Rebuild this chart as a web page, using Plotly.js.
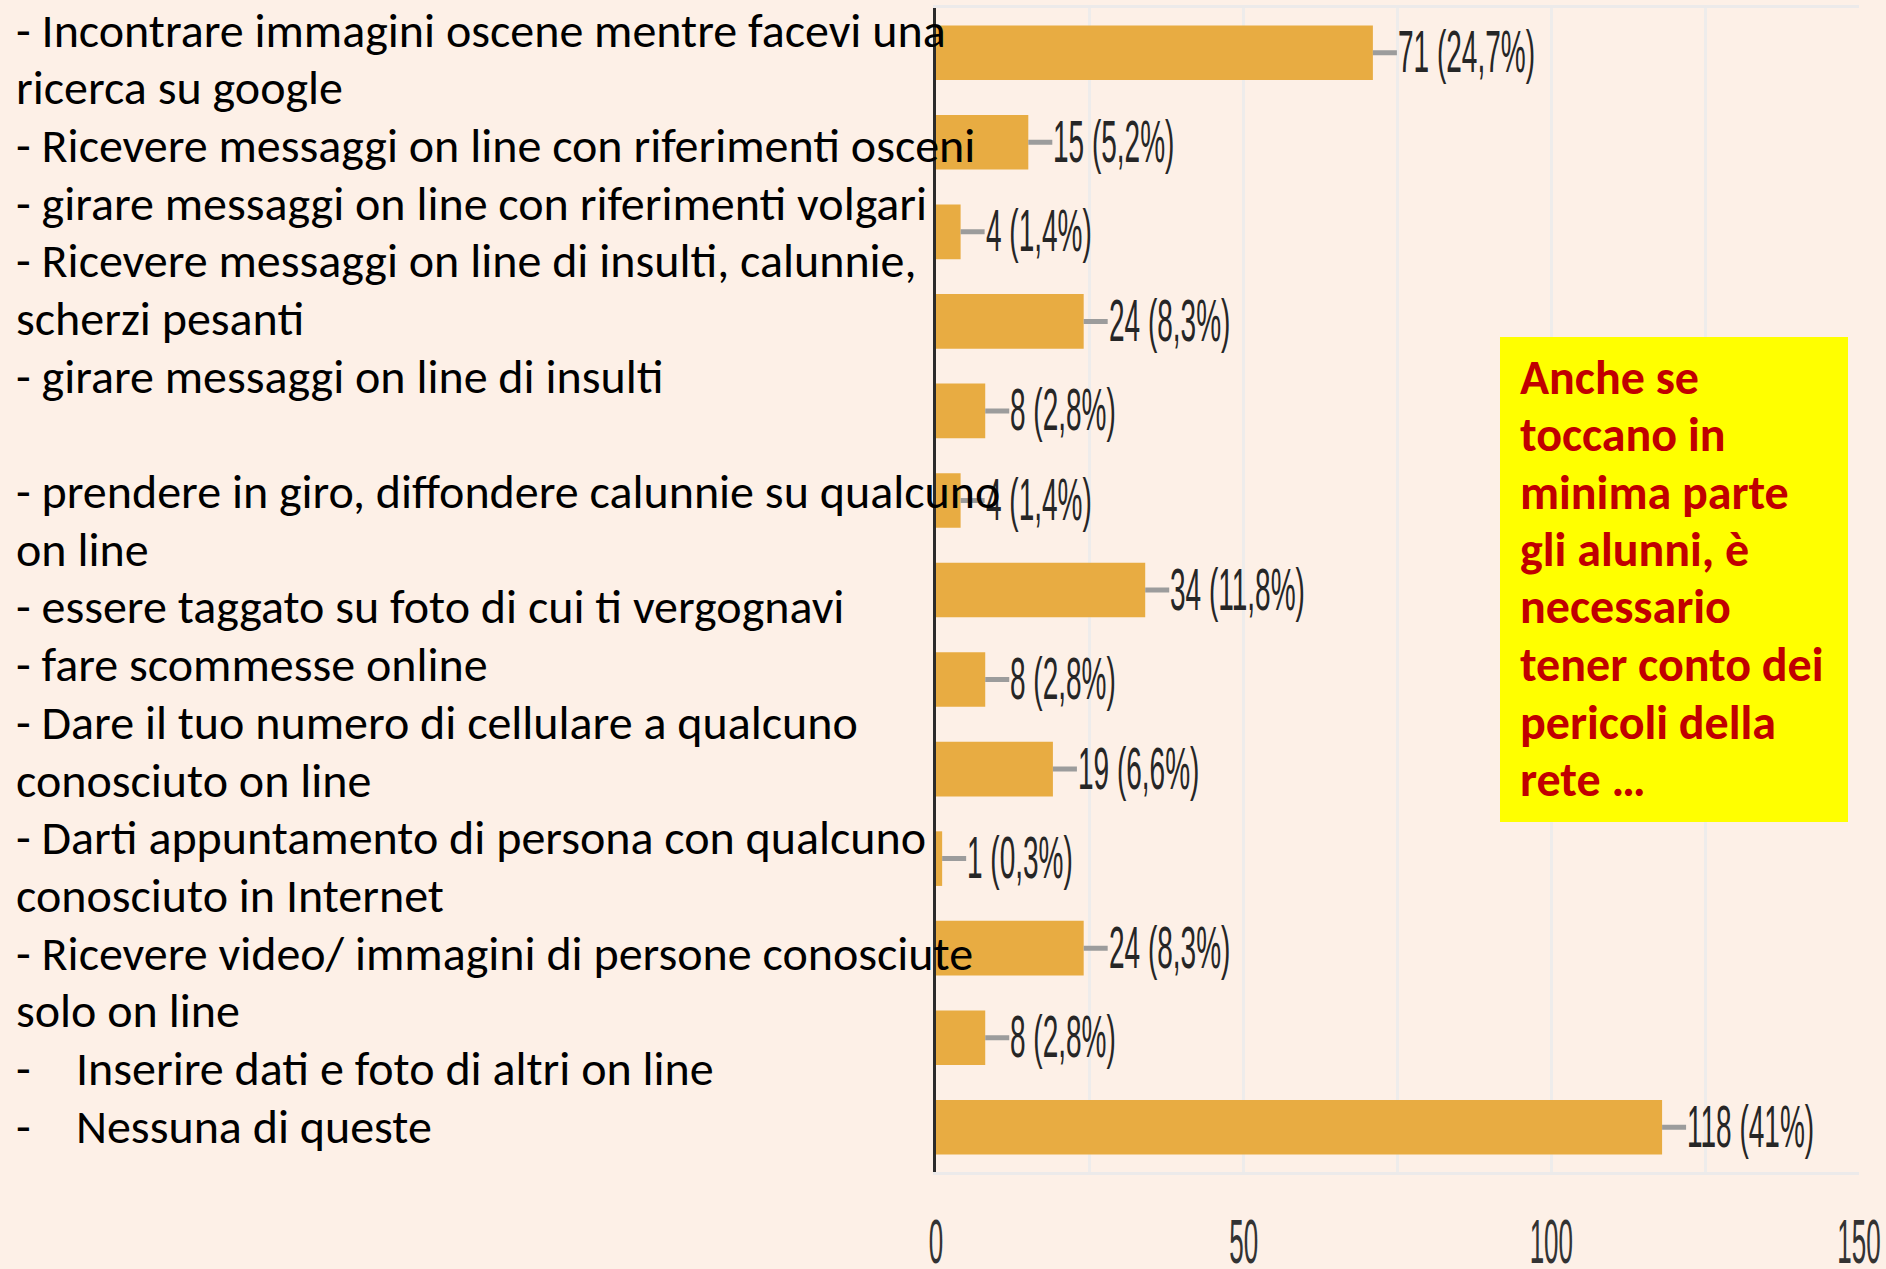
<!DOCTYPE html>
<html>
<head>
<meta charset="utf-8">
<script src="https://cdn.plot.ly/plotly-3.0.1.min.js"></script>
<style>
  html, body { margin: 0; padding: 0; background: #FDF0E7; }
  #chart { width: 1886px; height: 1269px; }
</style>
</head>
<body>
<div id="chart"></div>
<script>
// ---- data ----
const categories = [
  "Incontrare immagini oscene mentre facevi una ricerca su google",
  "Ricevere messaggi on line con riferimenti osceni",
  "girare messaggi on line con riferimenti volgari",
  "Ricevere messaggi on line di insulti, calunnie, scherzi pesanti",
  "girare messaggi on line di insulti",
  "prendere in giro, diffondere calunnie su qualcuno on line",
  "essere taggato su foto di cui ti vergognavi",
  "fare scommesse online",
  "Dare il tuo numero di cellulare a qualcuno conosciuto on line",
  "Darti appuntamento di persona con qualcuno conosciuto in Internet",
  "Ricevere video/ immagini di persone conosciute solo on line",
  "Inserire dati e foto di altri on line",
  "Nessuna di queste"
];
const counts = [71, 15, 4, 24, 8, 4, 34, 8, 19, 1, 24, 8, 118];
const percents = [24.7, 5.2, 1.4, 8.3, 2.8, 1.4, 11.8, 2.8, 6.6, 0.3, 8.3, 2.8, 41];
const xTickValues = [0, 50, 100, 150];
const xTickLabels = ["0", "50", "100", "150"];

// slide text overlaid on the left of the chart
const overlayLines = [
  "- Incontrare immagini oscene mentre facevi una",
  "ricerca su google",
  "- Ricevere messaggi on line con riferimenti osceni",
  "- girare messaggi on line con riferimenti volgari",
  "- Ricevere messaggi on line di insulti, calunnie,",
  "scherzi pesanti",
  "- girare messaggi on line di insulti",
  "",
  "- prendere in giro, diffondere calunnie su qualcuno",
  "on line",
  "- essere taggato su foto di cui ti vergognavi",
  "- fare scommesse online",
  "- Dare il tuo numero di cellulare a qualcuno",
  "conosciuto on line",
  "- Darti appuntamento di persona con qualcuno",
  "conosciuto in Internet",
  "- Ricevere video/ immagini di persone conosciute",
  "solo on line",
  "-\tInserire dati e foto di altri on line",
  "-\tNessuna di queste"
];
const noteLines = [
  "Anche se", "toccano in", "minima parte", "gli alunni, è",
  "necessario", "tener conto dei", "pericoli della", "rete …"
];

// ---- layout helpers ----
const W = 1886, H = 1269;
const M = { l: 936, r: 27, t: 8, b: 97 };
const plotH = H - M.t - M.b;
const plotW = W - M.l - M.r;
const py = p => 1 - (p - M.t) / plotH;   // pixel y -> paper y
const px = p => (p - M.l) / plotW;       // pixel x -> paper x

const chartFont = "'Liberation Sans', Arial, sans-serif";
const slideFont = "Carlito, Calibri, Lato, 'Open Sans', sans-serif";

const fmtPct = v => String(v).replace('.', ',') + '%';

const annotations = [];
// value labels with grey leader
categories.forEach((c, i) => {
  annotations.push({
    x: counts[i], y: c, xref: 'x', yref: 'y',
    text: counts[i] + ' (' + fmtPct(percents[i]) + ')',
    showarrow: true, arrowhead: 0, arrowwidth: 5, arrowcolor: '#9C9C9C',
    ax: 24, ay: 0, xanchor: 'left', yanchor: 'middle', standoff: 0,
    borderpad: 0,
    font: { family: chartFont, size: 28, color: '#262626' }
  });
});
const nValueLabels = annotations.length;
// overlay slide text
const slideSize = 48;
overlayLines.forEach((t, i) => {
  if (!t) return;
  const y = py(30 + i * 57.7);
  if (t.startsWith('-\t')) {
    annotations.push({ xref: 'paper', yref: 'paper', x: px(14), y: y, xanchor: 'left', yanchor: 'middle',
      showarrow: false, text: '-', font: { family: slideFont, size: slideSize, color: '#000' } });
    annotations.push({ xref: 'paper', yref: 'paper', x: px(74), y: y, xanchor: 'left', yanchor: 'middle',
      showarrow: false, text: t.slice(2), font: { family: slideFont, size: slideSize, color: '#000' } });
  } else {
    annotations.push({ xref: 'paper', yref: 'paper', x: px(14), y: y, xanchor: 'left', yanchor: 'middle',
      showarrow: false, text: t, font: { family: slideFont, size: slideSize, color: '#000' } });
  }
});
// note box text
noteLines.forEach((t, i) => {
  annotations.push({ xref: 'paper', yref: 'paper', x: px(1518), y: py(377 + i * 57.5),
    xanchor: 'left', yanchor: 'middle', showarrow: false, text: '<b>' + t + '</b>',
    font: { family: slideFont, size: slideSize, color: '#C00000' } });
});

const trace = {
  type: 'bar', orientation: 'h',
  x: counts, y: categories,
  marker: { color: '#E8AC42', line: { width: 0 } },
  hoverinfo: 'none'
};

const layout = {
  width: W, height: H,
  margin: M,
  paper_bgcolor: '#FDF0E7', plot_bgcolor: '#FDF0E7',
  showlegend: false,
  bargap: 0.39,
  xaxis: {
    range: [0, 150], tickvals: xTickValues, ticktext: xTickLabels,
    showgrid: true, gridcolor: '#EEECEB', gridwidth: 3,
    minor: { tick0: 0, dtick: 25, showgrid: true, gridcolor: '#EEECEB', gridwidth: 3 },
    zeroline: false, showline: true, linecolor: '#ECEAEA', linewidth: 3, mirror: true,
    ticks: '', ticklabelstandoff: 44, ticklabeloverflow: 'allow',
    tickfont: { family: chartFont, size: 26, color: '#333333' },
    fixedrange: true
  },
  yaxis: {
    type: 'category', categoryorder: 'array', categoryarray: categories,
    autorange: 'reversed', showticklabels: false, showgrid: false,
    zeroline: false, showline: true, linecolor: '#2b2b2b', linewidth: 3,
    ticks: '', fixedrange: true
  },
  shapes: [{
    type: 'rect', xref: 'paper', yref: 'paper', layer: 'above',
    x0: px(1500), x1: px(1848), y0: py(822), y1: py(337),
    fillcolor: '#FFFF00', line: { width: 0 }
  }],
  annotations: annotations
};

// the original chart's numbers are drawn in a tall, condensed style
function stretchText(el, sx, sy, originLeft) {
  const bb = el.getBBox();
  const cx = originLeft ? bb.x : bb.x + bb.width / 2;
  const cy = bb.y + bb.height / 2;
  const prev = el.getAttribute('transform') || '';
  el.setAttribute('transform', prev + ' translate(' + cx + ',' + cy + ') scale(' + sx + ',' + sy + ') translate(' + (-cx) + ',' + (-cy) + ')');
}

Plotly.newPlot('chart', [trace], layout, { displayModeBar: false, staticPlot: true }).then(gd => {
  for (let i = 0; i < nValueLabels; i++) {
    const t = gd.querySelector('g.annotation[data-index="' + i + '"] text.annotation-text');
    if (t) stretchText(t, 1.0, 2.1, true);
  }
  gd.querySelectorAll('.xtick text').forEach(t => stretchText(t, 1.0, 2.4, false));
});
</script>
</body>
</html>
